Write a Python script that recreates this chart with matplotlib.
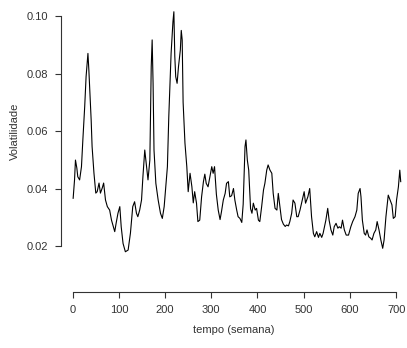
import matplotlib
matplotlib.use("Agg")
import matplotlib.pyplot as plt

weeks = [1, 4, 6, 9, 11, 15, 19, 22, 26, 29, 33, 35, 37, 40, 42, 46, 50, 53, 57, 60,
         64, 67, 71, 75, 80, 84, 87, 91, 94, 98, 102, 105, 109, 114, 120, 125, 130, 134, 138, 141,
         145, 149, 152, 156, 159, 163, 167, 170, 172, 174, 176, 180, 185, 190, 194, 198, 201, 205, 208, 213,
         217, 219, 221, 223, 226, 229, 233, 235, 237, 239, 243, 247, 250, 254, 258, 261, 264, 268, 271, 275,
         279, 283, 286, 289, 293, 297, 301, 304, 307, 311, 315, 319, 322, 326, 330, 333, 337, 340, 344, 348,
         351, 355, 358, 362, 366, 369, 373, 375, 378, 381, 385, 388, 391, 395, 398, 402, 405, 409, 413, 416,
         420, 423, 427, 431, 434, 438, 442, 445, 449, 452, 456, 460, 463, 467, 470, 474, 477, 481, 485, 488,
         492, 497, 501, 504, 509, 513, 517, 521, 524, 528, 532, 535, 539, 542, 548, 552, 555, 559, 563, 566,
         570, 574, 577, 581, 584, 588, 592, 597, 602, 606, 611, 615, 618, 622, 624, 627, 631, 634, 637, 641,
         645, 648, 652, 656, 659, 663, 667, 671, 674, 678, 683, 687, 691, 694, 698, 701, 705, 708, 710]

volatility = [0.0366, 0.0430, 0.0499, 0.0471, 0.0441, 0.0430, 0.0476, 0.0569, 0.0685, 0.0789,
              0.0870, 0.0812, 0.0743, 0.0638, 0.0546, 0.0454, 0.0384, 0.0389, 0.0419, 0.0384,
              0.0402, 0.0419, 0.0360, 0.0337, 0.0325, 0.0290, 0.0273, 0.0250, 0.0279, 0.0314,
              0.0337, 0.0267, 0.0209, 0.0180, 0.0186, 0.0245, 0.0337, 0.0354, 0.0314, 0.0302,
              0.0325, 0.0360, 0.0441, 0.0534, 0.0488, 0.0430, 0.0499, 0.0824, 0.0917, 0.0766,
              0.0534, 0.0418, 0.0360, 0.0314, 0.0296, 0.0337, 0.0395, 0.0476, 0.0650, 0.0870,
              0.0980, 0.1015, 0.0860, 0.0789, 0.0766, 0.0824, 0.0882, 0.0950, 0.0917, 0.0700,
              0.0558, 0.0476, 0.0389, 0.0453, 0.0406, 0.0350, 0.0389, 0.0349, 0.0285, 0.0290,
              0.0371, 0.0424, 0.0450, 0.0418, 0.0406, 0.0441, 0.0476, 0.0453, 0.0476, 0.0380,
              0.0325, 0.0292, 0.0319, 0.0360, 0.0383, 0.0418, 0.0424, 0.0371, 0.0375, 0.0400,
              0.0360, 0.0325, 0.0302, 0.0296, 0.0282, 0.0345, 0.0546, 0.0569, 0.0499, 0.0464,
              0.0330, 0.0314, 0.0349, 0.0325, 0.0331, 0.0290, 0.0285, 0.0337, 0.0395, 0.0418,
              0.0464, 0.0482, 0.0464, 0.0453, 0.0383, 0.0331, 0.0325, 0.0383, 0.0330, 0.0292,
              0.0276, 0.0268, 0.0273, 0.0270, 0.0285, 0.0314, 0.0360, 0.0349, 0.0302, 0.0302,
              0.0325, 0.0360, 0.0389, 0.0349, 0.0371, 0.0400, 0.0302, 0.0244, 0.0232, 0.0250,
              0.0230, 0.0244, 0.0230, 0.0244, 0.0290, 0.0331, 0.0290, 0.0256, 0.0238, 0.0267,
              0.0279, 0.0262, 0.0267, 0.0262, 0.0290, 0.0256, 0.0238, 0.0238, 0.0267, 0.0285,
              0.0302, 0.0325, 0.0383, 0.0400, 0.0371, 0.0290, 0.0244, 0.0238, 0.0256, 0.0232,
              0.0227, 0.0221, 0.0244, 0.0256, 0.0285, 0.0256, 0.0221, 0.0192, 0.0221, 0.0302,
              0.0377, 0.0360, 0.0343, 0.0296, 0.0302, 0.0360, 0.0406, 0.0464, 0.0424]

x_ticks = [0, 100, 200, 300, 400, 500, 600, 700]
y_ticks = [0.02, 0.04, 0.06, 0.08, 0.10]
y_tick_labels = ["0.02", "0.04", "0.06", "0.08", "0.10"]

plt.rcParams['font.family'] = ['Liberation Sans', 'DejaVu Sans']

fig = plt.figure(figsize=(4.07, 3.48), dpi=100)
ax = fig.add_axes([61 / 407, (348 - 292) / 348, 346 / 407, (292 - 8) / 348])

ax.plot(weeks, volatility, color='black', linewidth=0.8)

ax.set_xlim(-25.3, 723.6)
ax.set_ylim(0.004, 0.1028)

for s in ['top', 'right']:
    ax.spines[s].set_visible(False)
ax.spines['left'].set_bounds(0.02, 0.10)
ax.spines['bottom'].set_bounds(0, 700)
for s in ['left', 'bottom']:
    ax.spines[s].set_color('#333333')
    ax.spines[s].set_linewidth(0.8)

ax.set_xticks(x_ticks)
ax.set_yticks(y_ticks)
ax.set_yticklabels(y_tick_labels)
ax.tick_params(axis='both', direction='out', length=4, width=0.8, color='#333333',
               labelsize=8, labelcolor='#333333')
ax.tick_params(axis='x', pad=5.5)
ax.tick_params(axis='y', pad=5.5)

ax.set_xlabel("tempo (semana)", fontsize=8, color='#333333')
ax.set_ylabel("Volatilidade", fontsize=8, color='#333333')
ax.xaxis.label.set_va('center')
ax.yaxis.label.set_va('center')
ax.xaxis.set_label_coords((234 - 61) / 346, (292 - 330) / 284)
ax.yaxis.set_label_coords((15 - 61) / 346, (292 - 131) / 284)

fig.savefig("out.png", dpi=100)
